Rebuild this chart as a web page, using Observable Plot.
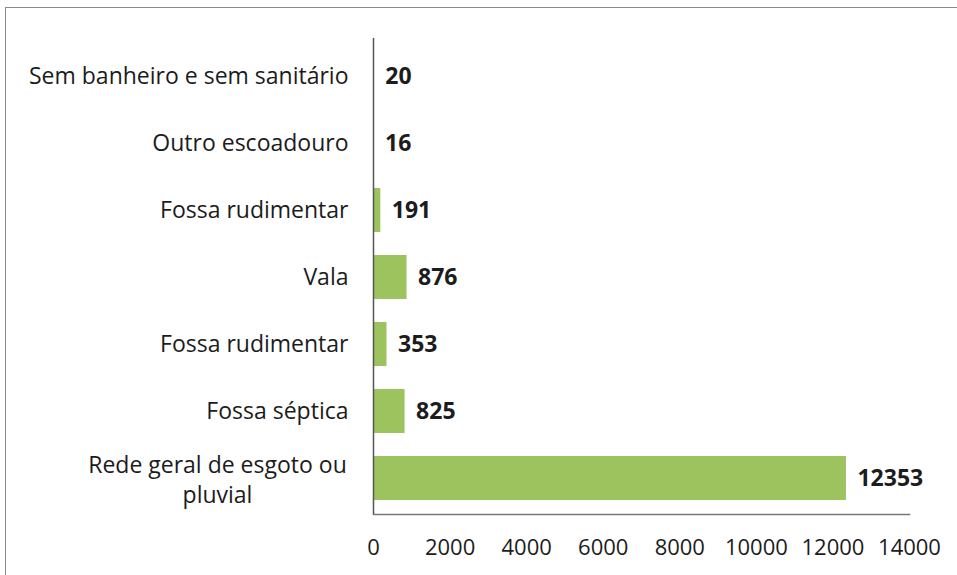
<!DOCTYPE html>
<html>
<head>
<meta charset="utf-8">
<script src="https://cdn.jsdelivr.net/npm/d3@7"></script>
<script src="https://cdn.jsdelivr.net/npm/@observablehq/plot@0.6"></script>
<style>
  html, body { margin: 0; padding: 0; background: #fff; }
  #wrap { position: relative; width: 957px; height: 575px; overflow: hidden; }
  #border { position: absolute; left: 5px; top: 7px; width: 970px; height: 600px; border: 1.5px solid #8a8a8a; box-sizing: border-box; pointer-events: none; }
  svg { position: absolute; left: 0; top: 0; }
</style>
</head>
<body>
<div id="wrap"><div id="border"></div><div id="chart"></div></div>
<script>
const categories = [
  "Sem banheiro e sem sanitário",
  "Outro escoadouro",
  "Fossa rudimentar",
  "Vala",
  "Fossa rudimentar",
  "Fossa séptica",
  "Rede geral de esgoto ou\npluvial"
];
const values = [20, 16, 191, 876, 353, 825, 12353];
const xTicks = [0, 2000, 4000, 6000, 8000, 10000, 12000, 14000];

const data = categories.map((c, i) => ({ key: i, label: c, value: values[i] }));
const single = data.filter(d => !d.label.includes("\n"));
const multi = data.filter(d => d.label.includes("\n"));
const font = "'Open Sans', 'Liberation Sans', Arial, sans-serif";
const ink = "#1c1c1c";

const chart = Plot.plot({
  width: 957,
  height: 575,
  marginLeft: 373,
  marginRight: 48,
  marginTop: 40,
  marginBottom: 61,
  style: { fontFamily: font, fontSize: "23px", color: ink, background: "transparent" },
  x: { domain: [0, 14000], label: null },
  y: { domain: data.map(d => d.key), paddingInner: 0.34, paddingOuter: 0.17, label: null, axis: null },
  marks: [
    Plot.barX(data, { x: "value", y: "key", fill: "#9cc35e" }),
    Plot.axisX({ ticks: xTicks, tickFormat: d => String(d), tickSize: 0, tickPadding: 25, fontSize: 22, fill: ink, label: null }),
    Plot.frame({ anchor: "bottom", stroke: "#777", strokeWidth: 1.5 }),
    Plot.ruleX([0], { stroke: "#555", strokeWidth: 1.5, insetTop: -2 }),
    Plot.text(single, { x: 0, y: "key", text: "label", textAnchor: "end", dx: -25, fontSize: 23, fill: ink }),
    Plot.text(multi, { x: 0, y: "key", text: "label", textAnchor: "middle", dx: -156, lineHeight: 1.3, fontSize: 23, fill: ink }),
    Plot.text(data, { x: "value", y: "key", text: d => String(d.value), textAnchor: "start", dx: 11, fontSize: 23, fontWeight: "bold", fill: ink })
  ]
});
document.getElementById("chart").appendChild(chart);
</script>
</body>
</html>
